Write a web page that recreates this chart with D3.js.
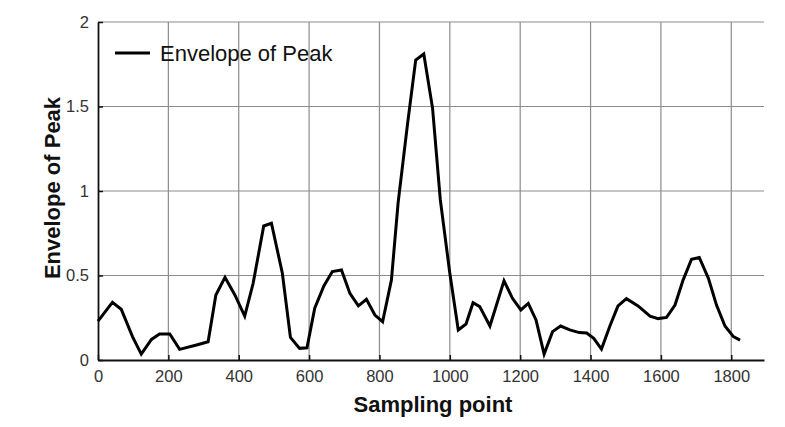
<!DOCTYPE html>
<html>
<head>
<meta charset="utf-8">
<script src="https://cdn.jsdelivr.net/npm/d3@7"></script>
<style>
html,body{margin:0;padding:0;background:#fff;}
svg{display:block;}
</style>
</head>
<body>
<svg id="chart" width="785" height="427"></svg>
<script>
const sampleX = [0, 41, 66, 98, 123, 152, 175, 204, 232, 280, 313, 335, 361, 389, 417, 441, 471, 493, 524, 547, 573, 594, 616, 642, 666, 692, 716, 740, 763, 787, 809, 834, 853, 880, 903, 926, 951, 973, 1000, 1024, 1046, 1066, 1085, 1114, 1154, 1178, 1202, 1223, 1245, 1268, 1292, 1315, 1341, 1368, 1389, 1409, 1431, 1455, 1478, 1502, 1535, 1569, 1592, 1616, 1640, 1663, 1687, 1709, 1735, 1758, 1782, 1806, 1825];
const envelope = [0.23, 0.341, 0.30, 0.138, 0.035, 0.122, 0.154, 0.154, 0.063, 0.089, 0.108, 0.385, 0.489, 0.385, 0.26, 0.454, 0.793, 0.809, 0.513, 0.134, 0.069, 0.072, 0.306, 0.438, 0.523, 0.533, 0.394, 0.32, 0.359, 0.266, 0.227, 0.473, 0.93, 1.40, 1.775, 1.811, 1.489, 0.947, 0.513, 0.178, 0.213, 0.339, 0.316, 0.201, 0.469, 0.365, 0.296, 0.335, 0.237, 0.035, 0.168, 0.201, 0.178, 0.162, 0.16, 0.128, 0.065, 0.201, 0.32, 0.363, 0.32, 0.26, 0.245, 0.252, 0.325, 0.473, 0.596, 0.607, 0.483, 0.325, 0.201, 0.138, 0.118];
const xTicks = [0, 200, 400, 600, 800, 1000, 1200, 1400, 1600, 1800];
const yTicks = [0, 0.5, 1, 1.5, 2];
const seriesName = "Envelope of Peak";
const xTitle = "Sampling point";
const yTitle = "Envelope of Peak";

const svg = d3.select("#chart");
const L = 98, R = 764, T = 22, B = 360;
const x = d3.scaleLinear().domain([0, 1893]).range([L, R]);
const y = d3.scaleLinear().domain([0, 2]).range([B, T]);
const font = "'Liberation Sans', Arial, Helvetica, sans-serif";

// grid
const g = svg.append("g");
g.selectAll("line.vg").data(xTicks.filter(d => d > 0)).enter().append("line")
  .attr("x1", d => x(d)).attr("x2", d => x(d)).attr("y1", T).attr("y2", B)
  .attr("stroke", "#8c8c8c").attr("stroke-width", 1.2);
g.selectAll("line.hg").data(yTicks.filter(d => d > 0)).enter().append("line")
  .attr("x1", L).attr("x2", R).attr("y1", d => y(d)).attr("y2", d => y(d))
  .attr("stroke", "#8c8c8c").attr("stroke-width", 1.2);

// axes
const xAxis = d3.axisBottom(x).tickValues(xTicks).tickSizeInner(-5).tickSizeOuter(0).tickPadding(10).tickFormat(d3.format("d"));
const yAxis = d3.axisLeft(y).tickValues(yTicks).tickSizeInner(-5).tickSizeOuter(0).tickPadding(9).tickFormat(d => String(d));
const gx = svg.append("g").attr("transform", `translate(0,${B})`).call(xAxis);
const gy = svg.append("g").attr("transform", `translate(${L},0)`).call(yAxis);
[gx, gy].forEach(a => {
  a.select(".domain").attr("stroke", "#111").attr("stroke-width", 1.8);
  a.selectAll(".tick line").attr("stroke", "#111").attr("stroke-width", 1.5);
  a.selectAll(".tick text").attr("fill", "#333").style("font-family", font).style("font-size", "16.5px");
});

// line
const line = d3.line().x((d, i) => x(sampleX[i])).y(d => y(d));
svg.append("path").datum(envelope).attr("d", line)
  .attr("fill", "none").attr("stroke", "#000").attr("stroke-width", 3).attr("stroke-linejoin", "miter");

// legend
svg.append("line").attr("x1", 115).attr("x2", 150).attr("y1", 53).attr("y2", 53)
  .attr("stroke", "#000").attr("stroke-width", 3);
svg.append("text").attr("x", 160).attr("y", 61).text(seriesName)
  .style("font-family", font).style("font-size", "22px").attr("fill", "#111");

// titles
svg.append("text").attr("x", (L + R) / 2 + 2).attr("y", 412).attr("text-anchor", "middle")
  .text(xTitle).style("font-family", font).style("font-size", "22px").style("font-weight", "bold").attr("fill", "#111");
svg.append("text").attr("transform", "translate(60,188) rotate(-90)").attr("text-anchor", "middle")
  .text(yTitle).style("font-family", font).style("font-size", "22px").style("font-weight", "bold").attr("fill", "#111");
</script>
</body>
</html>
